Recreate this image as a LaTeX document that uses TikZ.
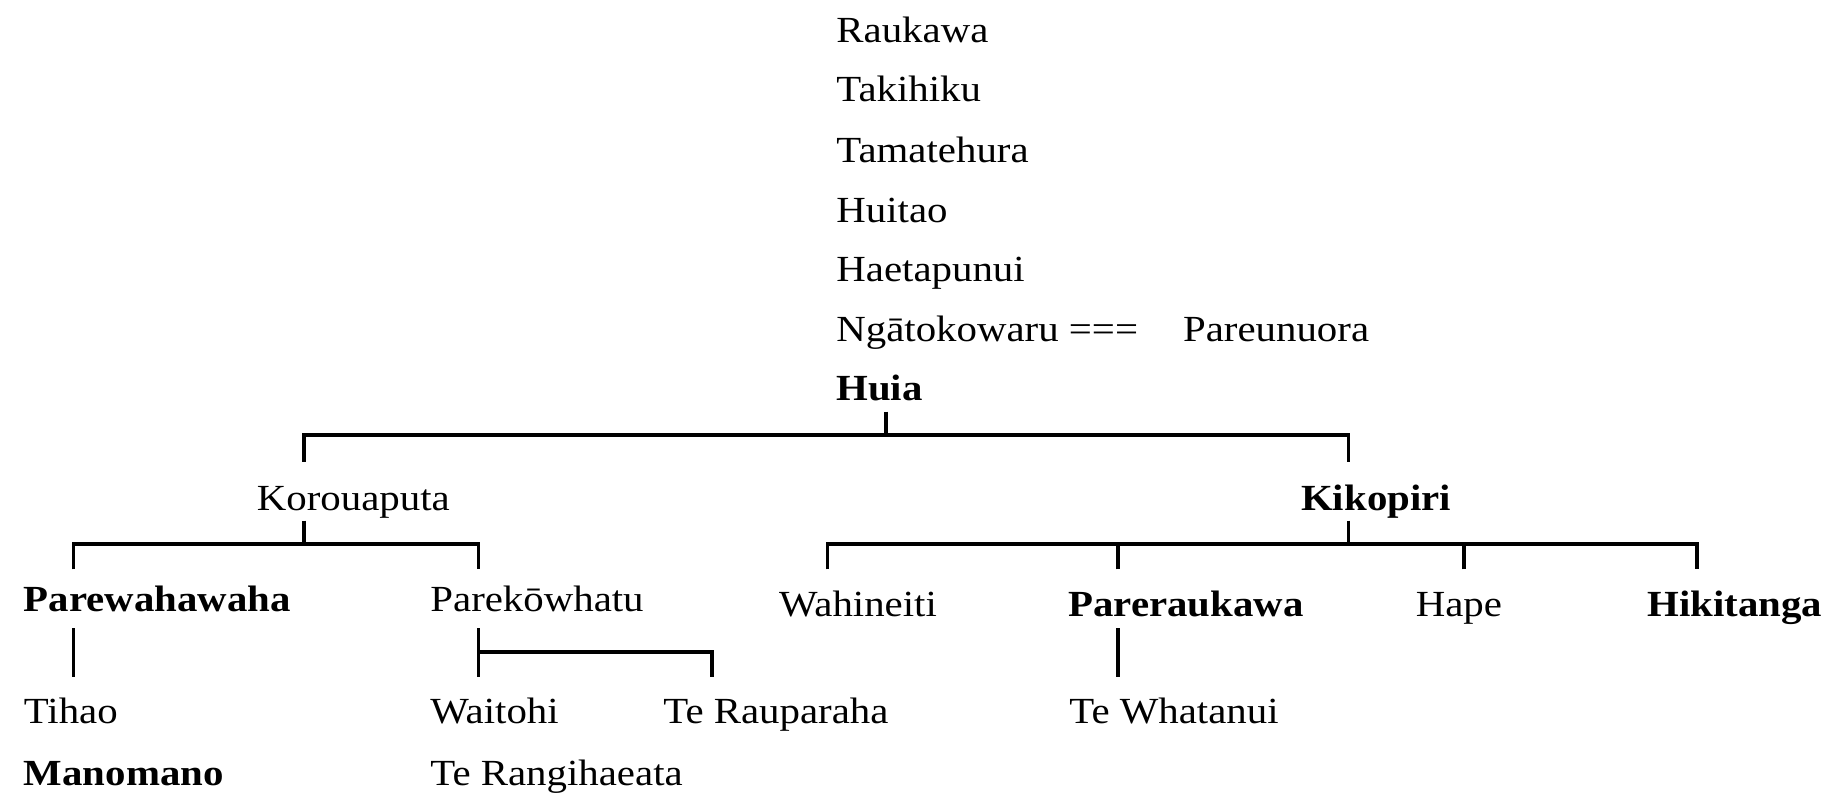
\documentclass[tikz,border=0pt]{standalone}
\usepackage{fontspec}
\setmainfont[FakeStretch=1.11]{Liberation Serif}
\begin{document}
\begin{tikzpicture}[x=0.5pt,y=-0.5pt,
    person/.style={anchor=base west,inner sep=0pt,font=\fontsize{18.4}{22}\selectfont},
    chief/.style={person,font=\fontsize{18.4}{22}\selectfont\bfseries},
    kin/.style={line width=1.8pt}]
            \useasboundingbox (0,0) rectangle (1831,799);
            \node[person] (raukawa) at (836,42.7) {Raukawa};
            \node[person] (takihiku) at (836,101.7) {Takihiku};
            \node[person] (tamatehura) at (836,162.7) {Tamatehura};
            \node[person] (huitao) at (836,222.7) {Huitao};
            \node[person] (haetapunui) at (836,281.7) {Haetapunui};
            \node[person] (ngatokowaru) at (836,341.7) {Ngātokowaru ===};
            \node[person] (pareunuora) at (1182.7,341.7) {Pareunuora};
            \node[chief] (huia) at (836,400) {Huia};
            \node[person] (korouaputa) at (256.5,510) {Korouaputa};
            \node[chief] (kikopiri) at (1300.8,510) {Kikopiri};
            \node[chief] (parewahawaha) at (23.5,611.7) {Parewahawaha};
            \node[person] (parekowhatu) at (430,611.7) {Parekōwhatu};
            \node[person] (wahineiti) at (778.7,616.7) {Wahineiti};
            \node[chief] (pareraukawa) at (1068,616.7) {Pareraukawa};
            \node[person] (hape) at (1415.4,616.7) {Hape};
            \node[chief] (hikitanga) at (1647,616.7) {Hikitanga};
            \node[person] (tihao) at (23.5,723.3) {Tihao};
            \node[person] (waitohi) at (430,723.3) {Waitohi};
            \node[person] (rauparaha) at (663,723.3) {Te Rauparaha};
            \node[person] (whatanui) at (1069,723.3) {Te Whatanui};
            \node[chief] (manomano) at (23.5,785) {Manomano};
            \node[person] (rangihaeata) at (430,785) {Te Rangihaeata};
            % line ends
            \coordinate (huiaDrop) at (885.7,411.7);
            \coordinate (huiaBar) at (885.7,435);
            \coordinate (korouaputaTop) at (304,461.7);
            \coordinate (kikopiriTop) at (1348.5,461.7);
            \coordinate (korouaputaDrop) at (304,520.7);
            \coordinate (korouaputaBar) at (304,544);
            \coordinate (kikopiriDrop) at (1348.5,520.7);
            \coordinate (kikopiriBar) at (1348.5,544);
            \coordinate (parewahawahaTop) at (73.4,569.3);
            \coordinate (parekowhatuTop) at (478.3,569.3);
            \coordinate (wahineitiTop) at (827.5,569.3);
            \coordinate (pareraukawaTop) at (1118,569.3);
            \coordinate (hapeTop) at (1464,569.3);
            \coordinate (hikitangaTop) at (1697,569.3);
            \coordinate (parewahawahaDrop) at (73.4,628);
            \coordinate (tihaoTop) at (73.4,677);
            \coordinate (parekowhatuDrop) at (478.3,628);
            \coordinate (parekowhatuMid) at (478.3,651.7);
            \coordinate (waitohiTop) at (478.3,677);
            \coordinate (rauparahaTop) at (711.9,677);
            \coordinate (pareraukawaDrop) at (1118,628);
            \coordinate (whatanuiTop) at (1118,677);
            % Huia
            \draw[kin] (huiaDrop) -- (huiaBar);
            \draw[kin] (korouaputaTop) |- (huiaBar) -| (kikopiriTop);
            % Korouaputa
            \draw[kin] (korouaputaDrop) -- (korouaputaBar);
            \draw[kin] (parewahawahaTop) |- (korouaputaBar) -| (parekowhatuTop);
            % Kikopiri
            \draw[kin] (kikopiriDrop) -- (kikopiriBar);
            \draw[kin] (wahineitiTop) |- (kikopiriBar) -| (hikitangaTop);
            \draw[kin] (pareraukawaTop) -- (pareraukawaTop |- kikopiriBar);
            \draw[kin] (hapeTop) -- (hapeTop |- kikopiriBar);
            % children
            \draw[kin] (parewahawahaDrop) -- (tihaoTop);
            \draw[kin] (parekowhatuDrop) -- (waitohiTop);
            \draw[kin] (parekowhatuMid) -| (rauparahaTop);
            \draw[kin] (pareraukawaDrop) -- (whatanuiTop);
        \end{tikzpicture}
\end{document}
